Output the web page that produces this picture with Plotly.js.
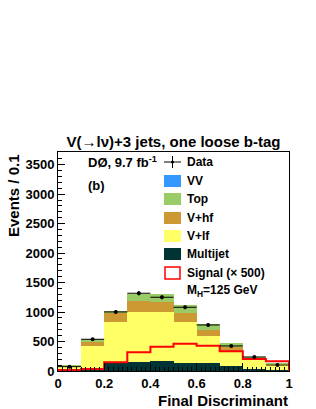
<!DOCTYPE html>
<html>
<head>
<meta charset="utf-8">
<script src="https://cdn.plot.ly/plotly-3.0.1.min.js"></script>
<style>html,body{margin:0;padding:0;background:#fff;}#plot{width:316px;height:409px;}</style>
</head>
<body>
<div id="plot"></div>
<script>
// Bin centres of the final discriminant (bin width 0.1)
const binCenters = [0.05, 0.15, 0.25, 0.35, 0.45, 0.55, 0.65, 0.75, 0.85, 0.95];
const binEdges = [0, 0.1, 0.2, 0.3, 0.4, 0.5, 0.6, 0.7, 0.8, 0.9, 1.0];
// Stacked backgrounds (events / 0.1)
const multijet = [25, 40, 141, 158, 170, 141, 130, 90, 40, 23];
const vlf = [62, 379, 691, 844, 826, 691, 470, 244, 147, 90];
const vhf = [5, 79, 158, 181, 181, 153, 96, 79, 28, 12];
const topBkg = [3, 38, 34, 124, 130, 141, 102, 57, 28, 16];
const vv = [0, 1, 2, 2, 2, 2, 1, 1, 0, 0];
// Data
const dataCounts = [74, 538, 1002, 1319, 1251, 1081, 781, 425, 238, 102];
// Signal (x 500), M_H = 125 GeV
const signal = [15, 34, 147, 317, 413, 464, 430, 334, 204, 164];
// Tick labels
const xTicks = [0, 0.2, 0.4, 0.6, 0.8, 1];
const xTickText = ['0', '0.2', '0.4', '0.6', '0.8', '1'];
const yTicks = [0, 500, 1000, 1500, 2000, 2500, 3000, 3500];
const yTickText = ['0', '500', '1000', '1500', '2000', '2500', '3000', '3500'];

const colors = {
  vv: 'rgb(51,153,255)',
  topBkg: 'rgb(153,204,102)',
  vhf: 'rgb(204,153,51)',
  vlf: 'rgb(255,255,102)',
  multijet: 'rgb(0,51,51)',
  signal: 'rgb(255,0,0)'
};

function bar(y, color, name) {
  return {type: 'bar', x: binCenters, y: y, width: 0.1, name: name,
    marker: {color: color, line: {width: 0}}, hoverinfo: 'skip', showlegend: false};
}

// signal outline as step histogram
const sigX = [binEdges[0]].concat(binEdges.slice(0, 10)).concat([binEdges[10]]);
const sigY = [0].concat(signal).concat([0]);

const traces = [
  bar(multijet, colors.multijet, 'Multijet'),
  bar(vlf, colors.vlf, 'V+lf'),
  bar(vhf, colors.vhf, 'V+hf'),
  bar(topBkg, colors.topBkg, 'Top'),
  bar(vv, colors.vv, 'VV'),
  {type: 'scatter', mode: 'lines', x: sigX, y: sigY, line: {shape: 'hv', color: colors.signal, width: 2},
    showlegend: false, hoverinfo: 'skip'},
  {type: 'scatter', mode: 'markers', x: binCenters, y: dataCounts,
    marker: {color: 'black', size: 4},
    error_y: {type: 'data', array: dataCounts.map(v => Math.sqrt(v)), color: 'black', thickness: 1, width: 0},
    error_x: {type: 'constant', value: 0.05, color: 'black', thickness: 1, width: 0},
    showlegend: false, hoverinfo: 'skip'}
];

// pixel -> paper helpers (plot area: x 58..289, y 152..371)
const L = 58, R = 289, T = 152, B = 371;
const px = x => (x - L) / (R - L);
const py = y => (B - y) / (B - T);

const font = {family: 'Liberation Sans, Arial, sans-serif', color: 'black'};
const legendText = [
  ['<b>Data</b>', 162],
  ['<b>VV</b>', 181],
  ['<b>Top</b>', 199],
  ['<b>V+hf</b>', 218],
  ['<b>V+lf</b>', 236],
  ['<b>Multijet</b>', 254],
  ['<b>Signal (× 500)</b>', 273],
  ['<b>M<sub>H</sub>=125 GeV</b>', 291]
];
const annotations = legendText.map(([t, y]) => ({
  text: t, xref: 'paper', yref: 'paper', x: px(185), y: py(y), xanchor: 'left', yanchor: 'middle',
  showarrow: false, font: Object.assign({size: 12}, font)
}));
annotations.push(
  {text: '<b>DØ, 9.7 fb<sup>-1</sup></b>', xref: 'paper', yref: 'paper', x: px(86), y: py(162),
    xanchor: 'left', yanchor: 'middle', showarrow: false, font: Object.assign({size: 13}, font)},
  {text: '<b>(b)</b>', xref: 'paper', yref: 'paper', x: px(86), y: py(185),
    xanchor: 'left', yanchor: 'middle', showarrow: false, font: Object.assign({size: 13}, font)},
  {text: '<b>Events / 0.1</b>', xref: 'paper', yref: 'paper', x: px(3), y: py(152),
    xanchor: 'left', yanchor: 'top', textangle: -90, showarrow: false, font: Object.assign({size: 15}, font)},
  {text: '<b>Final Discriminant</b>', xref: 'paper', yref: 'paper', x: px(290), y: py(400),
    xanchor: 'right', yanchor: 'middle', showarrow: false, font: Object.assign({size: 15}, font)}
);

const legendBoxes = [
  [181, colors.vv], [199, colors.topBkg], [218, colors.vhf], [236, colors.vlf], [254, colors.multijet]
];
const shapes = legendBoxes.map(([y, c]) => ({
  type: 'rect', xref: 'paper', yref: 'paper', x0: px(164), x1: px(181), y0: py(y + 6), y1: py(y - 6),
  fillcolor: c, line: {width: 0}
}));
shapes.push(
  {type: 'rect', xref: 'paper', yref: 'paper', x0: px(165), x1: px(180), y0: py(279), y1: py(267),
    fillcolor: 'white', line: {color: colors.signal, width: 1.5}},
  {type: 'line', xref: 'paper', yref: 'paper', x0: px(164), x1: px(181), y0: py(162), y1: py(162),
    line: {color: 'black', width: 1}},
  {type: 'line', xref: 'paper', yref: 'paper', x0: px(172.5), x1: px(172.5), y0: py(156), y1: py(168),
    line: {color: 'black', width: 1}},
  {type: 'circle', xref: 'paper', yref: 'paper', x0: px(171), x1: px(174), y0: py(163.5), y1: py(160.5),
    fillcolor: 'black', line: {width: 0}}
);

const layout = {
  width: 316, height: 409,
  margin: {l: L, r: 316 - R, t: T, b: 409 - B, pad: 0},
  paper_bgcolor: 'white', plot_bgcolor: 'white',
  barmode: 'stack', bargap: 0,
  showlegend: false,
  title: {text: '<b>V(→lν)+3 jets, one loose b-tag</b>', x: 0.5, xref: 'paper', xanchor: 'center',
    y: 1 - 142 / 409, yanchor: 'middle', font: Object.assign({size: 15}, font)},
  xaxis: {range: [0, 1], tickvals: xTicks, ticktext: xTickText.map(t => '<b>' + t + '</b>'),
    ticks: 'inside', ticklen: 8, ticklabelstandoff: 0,
    tickcolor: 'black', showline: true, linecolor: 'black', linewidth: 1, mirror: true,
    showgrid: false, zeroline: false, tickfont: Object.assign({size: 13}, font),
    minor: {dtick: 0.02, tick0: 0, ticks: 'inside', ticklen: 4, tickcolor: 'black', showgrid: false}},
  yaxis: {range: [0, 3715], tickvals: yTicks, ticktext: yTickText.map(t => '<b>' + t + '</b>'),
    ticks: 'inside', ticklen: 7,
    tickcolor: 'black', showline: true, linecolor: 'black', linewidth: 1, mirror: true,
    showgrid: false, zeroline: false, tickfont: Object.assign({size: 13}, font),
    minor: {dtick: 100, tick0: 0, ticks: 'inside', ticklen: 4, tickcolor: 'black', showgrid: false}},
  annotations: annotations,
  shapes: shapes
};

Plotly.newPlot('plot', traces, layout, {displayModeBar: false, staticPlot: true});
</script>
</body>
</html>
